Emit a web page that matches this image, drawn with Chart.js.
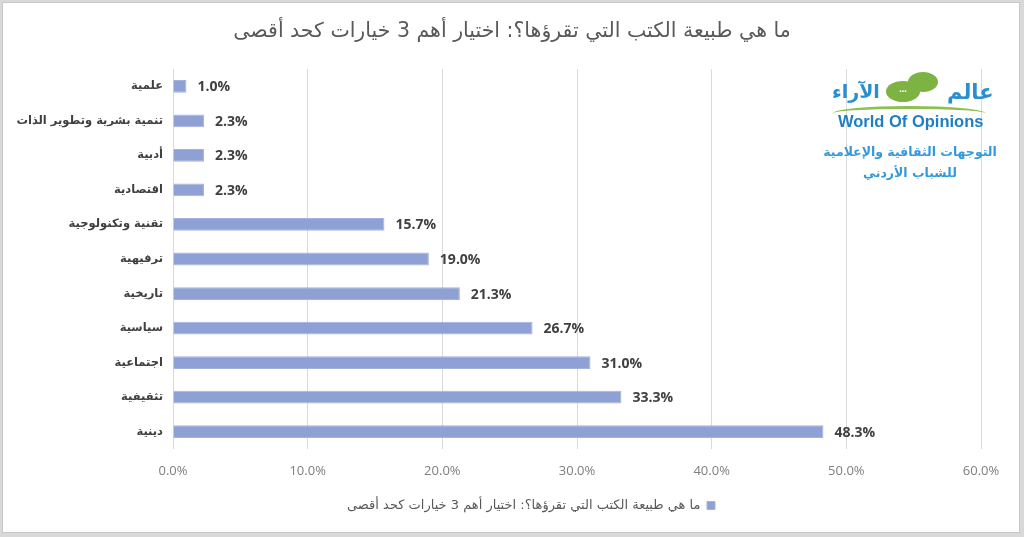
<!DOCTYPE html>
<html>
<head>
<meta charset="utf-8">
<script src="https://cdn.jsdelivr.net/npm/chart.js@4.4.1/dist/chart.umd.min.js"></script>
<style>
  html, body { margin: 0; padding: 0; background: #d9d9d9; }
  #frame {
    position: absolute; left: 2px; top: 2px; width: 1016px; height: 529px;
    background: #fff; border: 1px solid #c8c8c8;
  }
  #wrap { position: absolute; left: 0; top: 0; width: 1024px; height: 537px; }
  #title {
    position: absolute; left: 0; top: 18px; width: 1024px; text-align: center;
    font-family: "DejaVu Sans", sans-serif; font-size: 20.5px; color: #595959;
  }
  .logo { position: absolute; font-family: "DejaVu Sans", sans-serif; white-space: nowrap; }
  .bubble {
    position: absolute; background: #7cb342; border-radius: 50%;
    color: #fff; font-size: 10px; text-align: center; font-weight: bold;
  }
</style>
</head>
<body>
<div id="frame"></div>
<div id="wrap"><canvas id="barChart" width="1024" height="537"></canvas></div>
<div id="title" dir="rtl">ما هي طبيعة الكتب التي تقرؤها؟: اختيار أهم 3 خيارات كحد أقصى</div>

<!-- logo -->
<div class="logo" dir="rtl" style="left:947px; top:80px; font-size:21px; font-weight:bold; color:#2a8fd0;">عالم</div>
<div class="bubble" style="left:908px; top:72px; width:30px; height:20px;"></div>
<div class="bubble" style="left:886px; top:81px; width:34px; height:21px; line-height:15px;">...</div>
<div class="logo" dir="rtl" style="left:832px; top:80px; font-size:19px; font-weight:bold; color:#2a8fd0;">الآراء</div>
<div class="logo" style="left:832px; top:106px; width:154px; height:12px; border-top:3px solid #8cc152; border-radius:50% 50% 0 0;"></div>
<div class="logo" style="left:838px; top:112px; font-family:'Liberation Sans', sans-serif; font-size:16.5px; font-weight:bold; color:#1f7ec4;">World Of Opinions</div>
<div class="logo" dir="rtl" style="left:820px; top:144px; width:180px; text-align:center; font-size:12.5px; font-weight:bold; color:#3399dd;">التوجهات الثقافية والإعلامية</div>
<div class="logo" dir="rtl" style="left:820px; top:165px; width:180px; text-align:center; font-size:12.5px; font-weight:bold; color:#3399dd;">للشباب الأردني</div>

<script>
const categories = [
    'علمية',
    'تنمية بشرية وتطوير الذات',
    'أدبية',
    'اقتصادية',
    'تقنية وتكنولوجية',
    'ترفيهية',
    'تاريخية',
    'سياسية',
    'اجتماعية',
    'تثقيفية',
    'دينية'
];
const shares = [1.0, 2.3, 2.3, 2.3, 15.7, 19.0, 21.3, 26.7, 31.0, 33.3, 48.3];
const xTicks = [0, 10, 20, 30, 40, 50, 60];
const seriesName = 'ما هي طبيعة الكتب التي تقرؤها؟: اختيار أهم 3 خيارات كحد أقصى';

// value labels at the end of each bar
const barValues = {
    id: 'barValues',
    afterDatasetsDraw(chart) {
        const ctx = chart.ctx;
        const meta = chart.getDatasetMeta(0);
        ctx.save();
        ctx.font = 'bold 14px "Open Sans", sans-serif';
        ctx.fillStyle = '#404040';
        ctx.textAlign = 'left';
        ctx.textBaseline = 'middle';
        meta.data.forEach((bar, i) => {
            ctx.fillText(shares[i].toFixed(1) + '%', bar.x + 11, bar.y + 1);
        });
        ctx.restore();
    }
};

// nudge the legend a bit right, under the plot
const legendShift = {
    id: 'legendShift',
    afterLayout(chart) {
        if (chart.legend) chart.legend.left = 27;
    }
};

const ctxBar = document.getElementById('barChart').getContext('2d');
const barChart = new Chart(ctxBar, {
    type: 'bar',
    data: {
        labels: categories,
        datasets: [{
            label: seriesName,
            data: shares,
            backgroundColor: '#8ea0d4',
            borderColor: '#a3b3df',
            borderWidth: 1,
            barPercentage: 0.37,
            categoryPercentage: 1
        }]
    },
    options: {
        indexAxis: 'y',
        responsive: false,
        animation: false,
        layout: { padding: { left: 0, top: 69, right: 43, bottom: 15 } },
        scales: {
            x: {
                min: 0,
                max: 60,
                afterBuildTicks: (scale) => { scale.ticks = xTicks.map(v => ({ value: v })); },
                afterFit: (scale) => { scale.height = 40; },
                grid: { color: '#d9d9d9', drawTicks: false },
                border: { display: false },
                ticks: {
                    padding: 14,
                    color: '#7f7f7f',
                    font: { family: 'Open Sans', size: 13 },
                    callback: (v) => v.toFixed(1) + '%'
                }
            },
            y: {
                afterFit: (scale) => { scale.width = 173; },
                grid: { display: false, drawTicks: false },
                border: { display: false },
                ticks: {
                    padding: 10,
                    color: '#404040',
                    font: { family: 'DejaVu Sans', size: 11.5, weight: 'bold' }
                }
            }
        },
        plugins: {
            title: { display: false },
            tooltip: { enabled: false },
            legend: {
                position: 'bottom',
                rtl: true,
                textDirection: 'rtl',
                labels: {
                    boxWidth: 8,
                    boxHeight: 8,
                    padding: 10,
                    color: '#595959',
                    font: { family: 'DejaVu Sans', size: 13 }
                }
            }
        }
    },
    plugins: [barValues, legendShift]
});
</script>
</body>
</html>
